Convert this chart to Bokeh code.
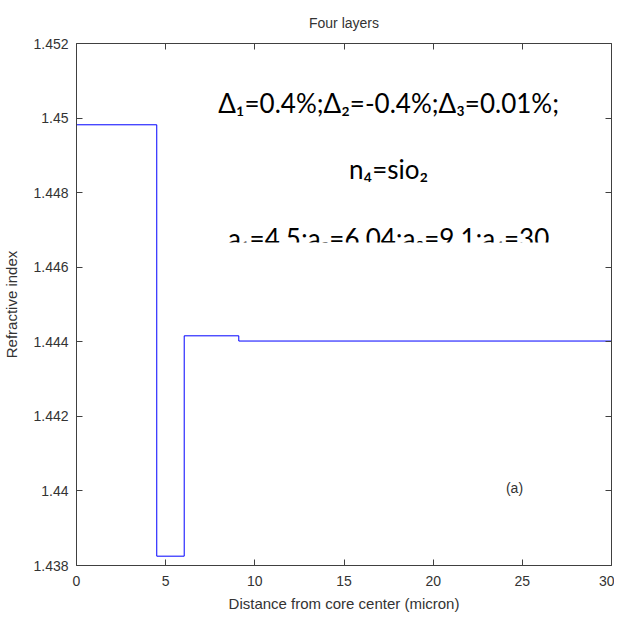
from bokeh.plotting import figure
from bokeh.models import (LinearAxis, FixedTicker, BoxAnnotation, Range1d,
                          PrintfTickFormatter, CustomJSTickFormatter)
from bokeh.core.properties import value
from bokeh.embed import file_html
from bokeh.resources import INLINE

# ---- data ----
boundaries = [0, 4.5, 6.04, 9.1, 30]          # layer radii (micron)
levels = [1.44982, 1.43825, 1.44416, 1.44402]  # refractive index of each layer
x_ticks = [0, 5, 10, 15, 20, 25, 30]
x_tick_labels = ["0", "5", "10", "15", "20", "25", "30"]
y_ticks = [1.438, 1.44, 1.442, 1.444, 1.446, 1.448, 1.45, 1.452]
y_tick_labels = ["1.438", "1.44", "1.442", "1.444", "1.446", "1.448", "1.45", "1.452"]
notes = ["Δ₁=0.4%;Δ₂=-0.4%;Δ₃=0.01%;", "n₄=sio₂", "a₁=4.5;a₂=6.04;a₃=9.1;a₄=30"]
panel_tag = "(a)"

AX_FONT = "Liberation Sans"
GRAY = "#333333"
LINE = "#404040"

p = figure(frame_width=535, frame_height=522,
           x_range=Range1d(0, 30), y_range=Range1d(1.438, 1.452),
           output_backend="svg", toolbar_location=None,
           min_border_left=74, min_border_top=42, min_border_bottom=51,
           min_border_right=3)
p.outline_line_color = None
p.grid.visible = False
p.background_fill_color = "white"

p.title.text = "Four layers"
p.title.align = "center"
p.title.text_font = AX_FONT
p.title.text_font_size = "14px"
p.title.text_font_style = "normal"
p.title.text_color = GRAY
p.title.standoff = 25

def style_axis(ax, ticks, labels, show_labels=True):
    ax.ticker = FixedTicker(ticks=ticks)
    ax.major_tick_in = 6
    ax.major_tick_out = 0
    ax.minor_tick_line_color = None
    ax.axis_line_color = LINE
    ax.major_tick_line_color = LINE
    ax.major_label_text_font = AX_FONT
    ax.major_label_text_color = GRAY
    ax.axis_label_text_font = AX_FONT
    ax.axis_label_text_color = GRAY
    ax.axis_label_text_font_style = "normal"
    ax.axis_label_text_font_size = "15px"
    ax.major_label_text_font_size = "14px"
    if show_labels:
        ax.formatter = PrintfTickFormatter(format="%g")
        ax.major_label_overrides = dict(zip(ticks, labels))
    else:
        ax.formatter = CustomJSTickFormatter(code="return '';")
        ax.major_label_standoff = 0

style_axis(p.xaxis[0], x_ticks, x_tick_labels)
p.xaxis[0].axis_label = "Distance from core center (micron)"
p.xaxis[0].major_label_standoff = 10
p.xaxis[0].axis_label_standoff = 6

style_axis(p.yaxis[0], y_ticks, y_tick_labels)
p.yaxis[0].axis_label = "Refractive index"
p.yaxis[0].major_label_standoff = 8
p.yaxis[0].axis_label_standoff = 10

top_ax = LinearAxis()
style_axis(top_ax, x_ticks, x_tick_labels, show_labels=False)
p.add_layout(top_ax, "above")
right_ax = LinearAxis()
style_axis(right_ax, y_ticks, y_tick_labels, show_labels=False)
p.add_layout(right_ax, "right")

# step profile
step_x = boundaries
step_y = levels + [levels[-1]]
p.step(step_x, step_y, mode="after", line_color="#0000ff", line_width=1)

# annotation lines (positions are layout only)
note_x = 17.5
note_y = [1.450391, 1.448621, 1.446771]
p.text(x=[note_x] * 3, y=note_y, text=notes, text_font=value("Lato"),
       text_font_size="26px", text_align="center", text_baseline="alphabetic",
       text_color="black")
# the third line is cut off in the original
p.add_layout(BoxAnnotation(left=6.5, right=29.5, bottom=1.4460, top=1.446663,
                           fill_color="white", fill_alpha=1.0, line_alpha=0))

p.text(x=[24.56], y=[1.44007], text=[panel_tag], text_font=value(AX_FONT),
       text_font_size="14px", text_align="center", text_baseline="middle",
       text_color=GRAY)

open("out.html", "w").write(file_html(p, INLINE))
